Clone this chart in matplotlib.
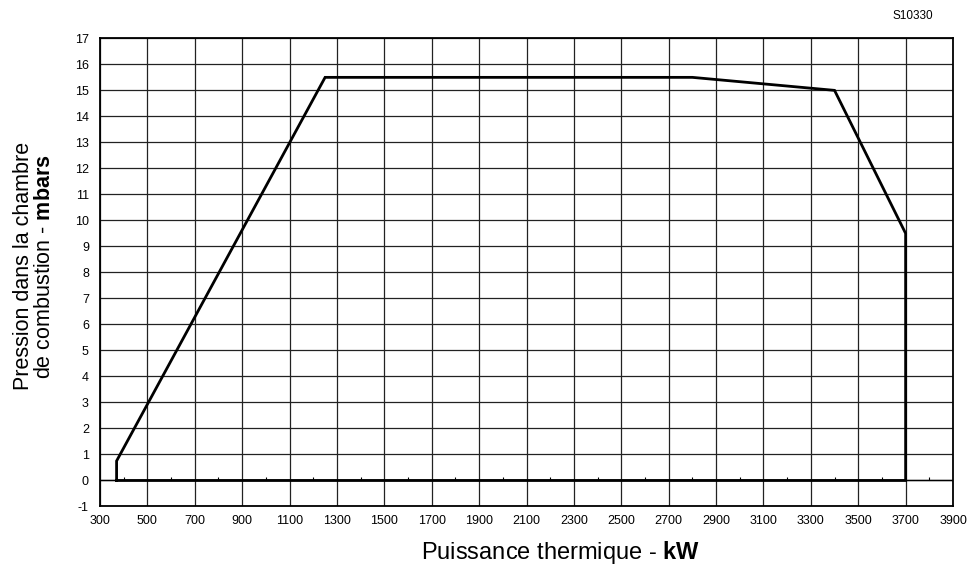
import numpy as np
import matplotlib
matplotlib.use("Agg")
import matplotlib.pyplot as plt

plt.rcParams["font.family"] = ["Liberation Sans", "DejaVu Sans"]
plt.rcParams["mathtext.fontset"] = "custom"
plt.rcParams["mathtext.rm"] = "Liberation Sans"
plt.rcParams["mathtext.bf"] = "Liberation Sans:bold"
plt.rcParams["axes.unicode_minus"] = False

# courbe de travail (kW, mbar)
puissance = [370, 370, 1250, 2800, 3400, 3700, 3700, 370]
pression = [0, 0.75, 15.5, 15.5, 15.0, 9.5, 0, 0]

x_ticks = list(range(300, 4000, 200))
y_ticks = list(range(-1, 18))

fig = plt.figure(figsize=(9.69, 5.64), dpi=100)
ax = fig.add_axes([0.1032, 0.102, 0.8803, 0.830])

ax.set_xlim(300, 3900)
ax.set_ylim(-1, 17)
ax.set_xticks(x_ticks)
ax.set_yticks(y_ticks)
ax.tick_params(axis="x", length=0, labelsize=9, pad=6)
ax.tick_params(axis="y", length=0, labelsize=9, pad=8)
ax.grid(True, color="#222222", linewidth=0.9)
ax.set_axisbelow(True)
for s in ax.spines.values():
    s.set_linewidth(1.3)

# ligne zéro et petites graduations
ax.axhline(0, color="black", linewidth=1.0)
ax.vlines(np.arange(400, 3900, 200), 0, 0.12, color="black", linewidth=0.8)

ax.plot(puissance, pression, color="black", linewidth=2, solid_joinstyle="miter")

fig.text(0.035, 0.528, "Pression dans la chambre\nde combustion - $\\bf{mbars}$",
         rotation=90, ha="center", va="center", fontsize=15.5, linespacing=1.05)
fig.text(0.578, 0.021, "Puissance thermique - $\\bf{kW}$",
         ha="center", va="center", fontsize=17)
fig.text(0.963, 0.972, "S10330", ha="right", va="center", fontsize=8.5)

plt.savefig("out.png", dpi=100)
